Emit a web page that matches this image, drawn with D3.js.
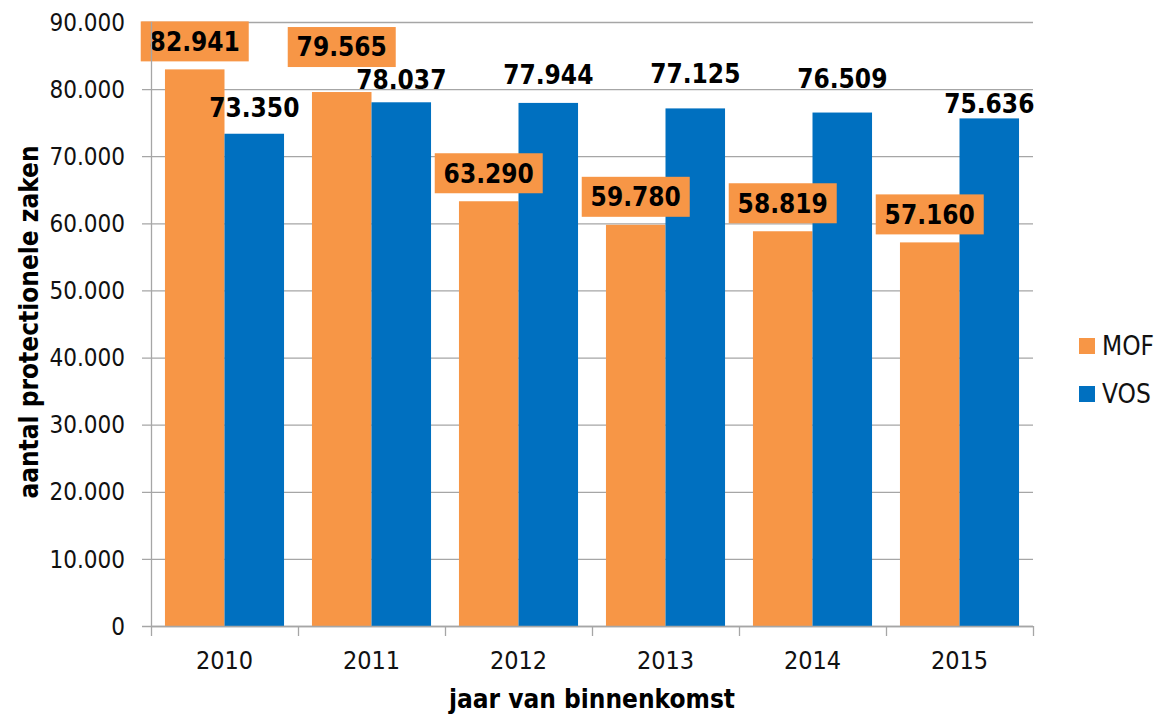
<!DOCTYPE html>
<html>
<head>
<meta charset="utf-8">
<script src="https://cdn.jsdelivr.net/npm/d3@7"></script>
<style>
  body { margin: 0; background: #fff; }
  text { font-family: "DejaVu Sans Condensed", "DejaVu Sans", Tahoma, sans-serif; }
</style>
</head>
<body>
<script>
// chart data
var years = ['2010', '2011', '2012', '2013', '2014', '2015'];
var seriesNames = ['MOF', 'VOS'];
var mofValues = [82941, 79565, 63290, 59780, 58819, 57160];
var vosValues = [73350, 78037, 77944, 77125, 76509, 75636];
var yTicks = [0, 10000, 20000, 30000, 40000, 50000, 60000, 70000, 80000, 90000];

// label nudges (px) the way excel placed them
var mofNudge = [0, -17, 0, 0, 0, 0];
var vosNudge = [2, 5, 0, -7, -6, 13];

var colors = {MOF: '#F79646', VOS: '#0070C0'};

var margin = {top: 22, right: 132, bottom: 92, left: 151},
    width = 1165 - margin.left - margin.right,
    height = 718 - margin.top - margin.bottom;

// dutch number format: 82.941
var fmt = d3.formatLocale({decimal: ',', thousands: '.', grouping: [3], currency: ['€', '']}).format(',d');

var svg = d3.select('body')
    .append('svg')
        .attr('width', 1165)
        .attr('height', 718)
    .append('g')
        .attr('transform', 'translate(' + margin.left + ',' + margin.top + ')');

var x = d3.scaleBand().domain(years).range([0, width]).paddingInner(0.19).paddingOuter(0.095);
var xSub = d3.scaleBand().domain(seriesNames).range([0, x.bandwidth()]);
var y = d3.scaleLinear().domain([0, 90000]).range([height, 0]);

var data = years.map(function(yr, i) {
  return {year: yr, values: [
    {key: 'MOF', value: mofValues[i], nudge: mofNudge[i]},
    {key: 'VOS', value: vosValues[i], nudge: vosNudge[i]}
  ]};
});

// gridlines + y ticks
svg.append('g')
    .selectAll('line')
    .data(yTicks)
  .enter().append('line')
    .attr('x1', -9)
    .attr('x2', width)
    .attr('y1', function(d) { return y(d) + 0.5; })
    .attr('y2', function(d) { return y(d) + 0.5; })
    .attr('stroke', '#a6a6a6')
    .attr('stroke-width', 1.3);

svg.append('g')
    .selectAll('text')
    .data(yTicks)
  .enter().append('text')
    .attr('x', -26)
    .attr('y', function(d) { return y(d); })
    .attr('dy', '0.36em')
    .attr('text-anchor', 'end')
    .style('font-size', '24px')
    .style('fill', '#111')
    .text(function(d) { return fmt(d); });

// bars
var groups = svg.selectAll('.grp')
    .data(data)
  .enter().append('g')
    .attr('class', 'grp')
    .attr('transform', function(d) { return 'translate(' + x(d.year) + ',0)'; });

groups.selectAll('rect')
    .data(function(d) { return d.values; })
  .enter().append('rect')
    .attr('x', function(d) { return xSub(d.key); })
    .attr('width', xSub.bandwidth())
    .attr('y', function(d) { return y(d.value); })
    .attr('height', function(d) { return height - y(d.value); })
    .attr('fill', function(d) { return colors[d.key]; });

// y axis line
svg.append('line')
    .attr('x1', 0.5).attr('x2', 0.5)
    .attr('y1', 0).attr('y2', height)
    .attr('stroke', '#a6a6a6')
    .attr('stroke-width', 1.3);

// x axis line and ticks at band edges
svg.append('line')
    .attr('x1', 0).attr('x2', width)
    .attr('y1', height + 0.5).attr('y2', height + 0.5)
    .attr('stroke', '#a6a6a6')
    .attr('stroke-width', 1.3);

var step = x.step();
svg.append('g')
    .selectAll('line')
    .data(d3.range(years.length + 1))
  .enter().append('line')
    .attr('x1', function(i) { return i * step + 0.5; })
    .attr('x2', function(i) { return i * step + 0.5; })
    .attr('y1', height)
    .attr('y2', height + 10)
    .attr('stroke', '#a6a6a6')
    .attr('stroke-width', 1.3);

svg.append('g')
    .selectAll('text')
    .data(years)
  .enter().append('text')
    .attr('x', function(d) { return x(d) + x.bandwidth() / 2; })
    .attr('y', height + 34)
    .attr('dy', '0.36em')
    .attr('text-anchor', 'middle')
    .style('font-size', '25px')
    .style('fill', '#111')
    .text(function(d) { return d; });

// value labels
var labels = groups.selectAll('.lbl')
    .data(function(d) { return d.values; })
  .enter().append('g')
    .attr('class', 'lbl')
    .attr('transform', function(d) {
      return 'translate(' + (xSub(d.key) + xSub.bandwidth() / 2) + ',' + (y(d.value) - 28 + d.nudge) + ')';
    });

labels.filter(function(d) { return d.key === 'MOF'; })
  .append('rect')
    .attr('x', -54)
    .attr('y', -20)
    .attr('width', 108)
    .attr('height', 40)
    .attr('fill', colors.MOF);

labels.append('text')
    .attr('text-anchor', 'middle')
    .attr('dy', '0.36em')
    .style('font-size', '26px')
    .style('font-weight', 'bold')
    .style('fill', '#000')
    .text(function(d) { return fmt(d.value); });

// axis titles
svg.append('text')
    .attr('x', width / 2)
    .attr('y', height + 82)
    .attr('text-anchor', 'middle')
    .style('font-size', '26px')
    .style('font-weight', 'bold')
    .text('jaar van binnenkomst');

svg.append('text')
    .attr('transform', 'translate(' + (-113) + ',' + (300) + ') rotate(-90)')
    .attr('text-anchor', 'middle')
    .style('font-size', '26px')
    .style('font-weight', 'bold')
    .text('aantal protectionele zaken');

// legend
var legend = svg.append('g')
    .attr('transform', 'translate(' + (width + 46) + ',324)');

var items = legend.selectAll('g')
    .data(seriesNames)
  .enter().append('g')
    .attr('transform', function(d, i) { return 'translate(0,' + (i * 48) + ')'; });

items.append('rect')
    .attr('x', 0)
    .attr('y', -8)
    .attr('width', 16)
    .attr('height', 16)
    .attr('fill', function(d) { return colors[d]; });

items.append('text')
    .attr('x', 23)
    .attr('dy', '0.36em')
    .style('font-size', '26px')
    .style('fill', '#111')
    .text(function(d) { return d; });
</script>
</body>
</html>
